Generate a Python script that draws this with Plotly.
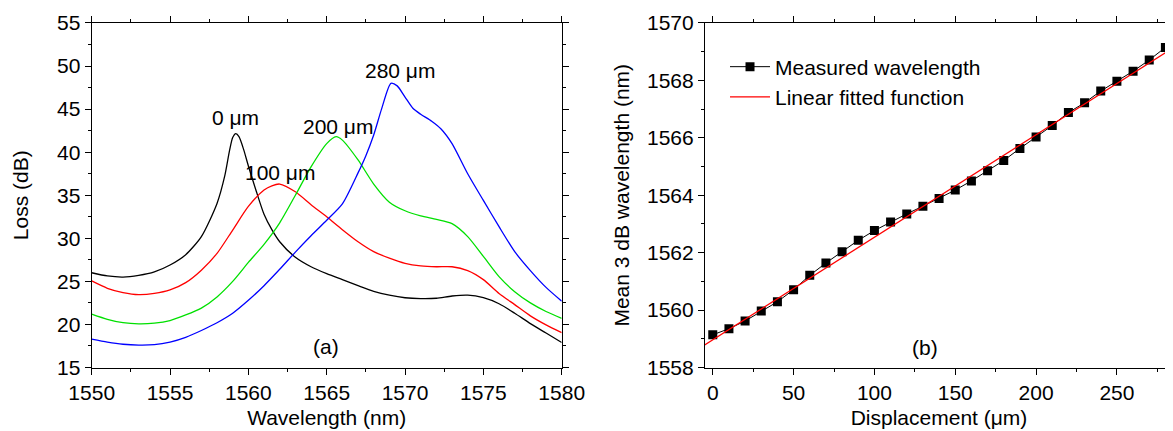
import plotly.graph_objects as go

# ---------------- Panel (a): loss spectra ----------------
wl_0 = [1550, 1551, 1552, 1553, 1554, 1555, 1556, 1557, 1558, 1558.5, 1558.8, 1559.0, 1559.2,
        1559.4, 1559.7, 1560, 1560.5, 1561, 1561.5, 1562, 1563, 1564, 1565, 1566, 1567, 1568,
        1569, 1570, 1571, 1572, 1573, 1574, 1575, 1576, 1577, 1578, 1579, 1580]
loss_0 = [26.0, 25.63, 25.5, 25.7, 26.1, 26.9, 28.1, 30.2, 34.05, 37.3, 40.2, 41.7, 42.15,
          41.8, 40.3, 38.4, 35.5, 32.8, 31.0, 29.6, 27.8, 26.7, 25.9, 25.2, 24.5, 23.85,
          23.4, 23.1, 23.0, 23.04, 23.3, 23.4, 23.1, 22.4, 21.3, 20.1, 19.0, 17.9]

wl_100 = [1550, 1551, 1552, 1553, 1554, 1555, 1556, 1557, 1558, 1559, 1560, 1561, 1561.5, 1562,
          1563, 1564, 1565, 1566, 1567, 1568, 1569, 1570, 1571, 1572, 1573, 1574, 1575, 1576,
          1577, 1578, 1579, 1580]
loss_100 = [25.05, 24.2, 23.7, 23.46, 23.6, 24.0, 24.85, 26.3, 28.25, 30.96, 33.7, 35.6, 36.1, 36.3,
            35.4, 33.9, 32.5, 31.0, 29.6, 28.45, 27.7, 27.1, 26.8, 26.7, 26.7, 26.25, 25.2, 23.6,
            22.3, 21.0, 19.95, 19.05]

wl_200 = [1550, 1551, 1552, 1553, 1554, 1555, 1556, 1557, 1558, 1559, 1560, 1561, 1562, 1563,
          1564, 1565, 1565.6, 1566, 1567, 1568, 1569, 1570, 1571, 1572, 1573, 1574, 1575, 1576,
          1577, 1578, 1579, 1580]
loss_200 = [21.2, 20.6, 20.2, 20.06, 20.14, 20.45, 21.1, 21.9, 23.2, 25.0, 27.2, 29.3, 31.8, 35.0,
            38.3, 41.0, 41.8, 41.4, 39.1, 36.3, 34.2, 33.2, 32.6, 32.2, 31.7, 30.2, 27.9, 25.55,
            23.8, 22.5, 21.5, 20.7]

wl_280 = [1550, 1551, 1552, 1553, 1554, 1555, 1556, 1557, 1558, 1559, 1560, 1561, 1562, 1563,
          1564, 1565, 1566, 1567, 1567.5, 1568, 1568.5, 1569.1, 1569.5, 1570, 1570.5, 1571,
          1571.7, 1572.3, 1573, 1574, 1575, 1576, 1577, 1578, 1579, 1580]
loss_280 = [18.3, 17.95, 17.7, 17.6, 17.65, 17.95, 18.5, 19.3, 20.2, 21.3, 22.8, 24.5, 26.4, 28.4,
            30.3, 32.1, 34.0, 37.6, 39.6, 42.0, 45.0, 48.0, 47.7, 46.4, 45.1, 44.4,
            43.6, 42.7, 41.0, 37.5, 34.4, 31.35, 28.45, 26.25, 24.3, 22.7]

curve_names = ["0 \u03bcm", "100 \u03bcm", "200 \u03bcm", "280 \u03bcm"]
curve_colors = ["#000000", "#ff0000", "#00e000", "#0000ff"]
label_x = [1559.2, 1562.05, 1565.7, 1569.67]
label_y = [44.0, 37.65, 43.0, 49.43]

# ---------------- Panel (b): mean 3 dB wavelength ----------------
disp = [0, 10, 20, 30, 40, 50, 60, 70, 80, 90, 100, 110, 120, 130, 140, 150, 160, 170, 180,
        190, 200, 210, 220, 230, 240, 250, 260, 270, 280]
mean_wl = [1559.14, 1559.35, 1559.62, 1559.97, 1560.29, 1560.71, 1561.21, 1561.64, 1562.03,
           1562.43, 1562.77, 1563.07, 1563.35, 1563.62, 1563.89, 1564.18, 1564.50, 1564.85,
           1565.21, 1565.63, 1566.03, 1566.43, 1566.88, 1567.22, 1567.63, 1567.97, 1568.32,
           1568.71, 1569.15]
fit_x = [-10, 290]
fit_y = [1558.61, 1569.32]

FONT = "Liberation Sans, Arial, sans-serif"
FS = 21

fig = go.Figure()

for wl, loss, name, col in zip([wl_0, wl_100, wl_200, wl_280],
                               [loss_0, loss_100, loss_200, loss_280],
                               curve_names, curve_colors):
    fig.add_trace(go.Scatter(x=wl, y=loss, mode="lines", name=name,
                             line=dict(color=col, width=1.3, shape="spline", smoothing=0.7),
                             xaxis="x", yaxis="y", showlegend=False))

fig.add_trace(go.Scatter(x=disp, y=mean_wl, mode="lines+markers", name="Measured wavelength",
                         line=dict(color="#000000", width=1),
                         marker=dict(symbol="square", size=9, color="#000000"),
                         xaxis="x2", yaxis="y2", showlegend=True))
fig.add_trace(go.Scatter(x=fit_x, y=fit_y, mode="lines", name="Linear fitted function",
                         line=dict(color="#ff0000", width=1.3),
                         xaxis="x2", yaxis="y2", showlegend=True))

annotations = []
for name, lx, ly in zip(curve_names, label_x, label_y):
    annotations.append(dict(x=lx, y=ly, xref="x", yref="y", text=name, showarrow=False,
                            font=dict(family=FONT, size=FS, color="black")))
annotations.append(dict(x=1564.93, y=17.44, xref="x", yref="y", text="(a)", showarrow=False,
                        font=dict(family=FONT, size=FS, color="black")))
annotations.append(dict(x=131, y=1558.68, xref="x2", yref="y2", text="(b)", showarrow=False,
                        font=dict(family=FONT, size=FS, color="black")))

axis_common = dict(showline=True, linecolor="black", linewidth=1.2, ticks="outside",
                   ticklen=6, tickwidth=1.2, tickcolor="black", showgrid=False, zeroline=False,
                   automargin=False,
                   tickfont=dict(family=FONT, size=FS, color="black"),
                   title_font=dict(family=FONT, size=FS, color="black"))
minor_common = dict(ticks="outside", ticklen=3, tickwidth=1.2, tickcolor="black", showgrid=False)

# page body has an 8px margin: figure is 1165x423, plot area x 30..1165, y 2..378 px
fig.update_layout(
    width=1165, height=423,
    margin=dict(l=30, r=0, t=2, b=45, pad=0),
    paper_bgcolor="white", plot_bgcolor="white",
    font=dict(family=FONT, size=FS, color="black"),
    xaxis=dict(axis_common, domain=[0.04731, 0.46141], range=[1550, 1580], dtick=5, tick0=1550,
               mirror="ticks", minor=dict(minor_common, dtick=2.5),
               title=dict(text="Wavelength (nm)", standoff=7), anchor="y"),
    yaxis=dict(axis_common, domain=[0.0492, 0.96543], range=[15, 55], dtick=5, tick0=15,
               mirror="ticks", minor=dict(minor_common, dtick=2.5),
               title=dict(text="Loss (dB)", standoff=22), anchor="x"),
    xaxis2=dict(axis_common, domain=[0.58767, 1.0], range=[-4.8, 284.7], dtick=50, tick0=0,
                mirror="ticks", minor=dict(minor_common, dtick=25),
                title=dict(text="Displacement (\u03bcm)", standoff=7), anchor="y2"),
    yaxis2=dict(axis_common, domain=[0.0492, 0.96543], range=[1558, 1570], dtick=2, tick0=1558,
                mirror=False, minor=dict(minor_common, dtick=1),
                title=dict(text="Mean 3 dB wavelength (nm)", standoff=11), anchor="x2"),
    showlegend=True,
    legend=dict(x=0.6053, y=0.9029, xanchor="left", yanchor="top", bgcolor="rgba(0,0,0,0)",
                font=dict(family=FONT, size=FS, color="black"), itemwidth=40,
                tracegroupgap=0),
    annotations=annotations,
)

fig.write_html("out.html")
